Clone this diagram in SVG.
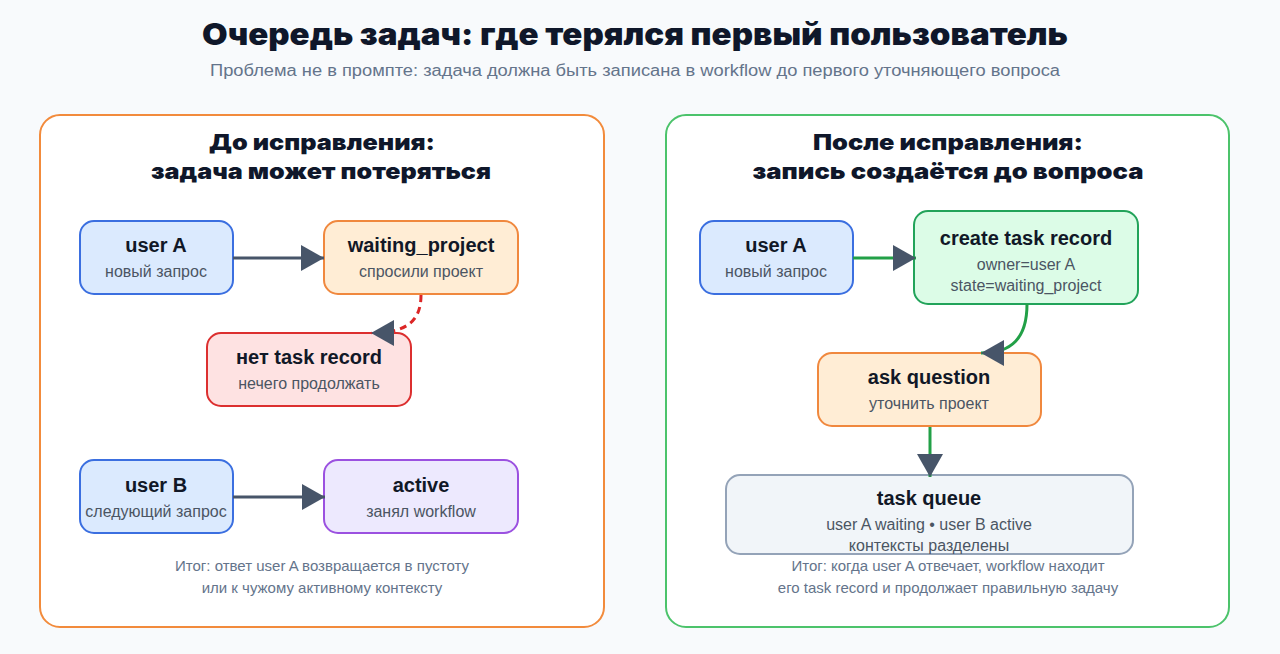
<svg xmlns="http://www.w3.org/2000/svg" width="1280" height="654" viewBox="0 0 1280 654">
<defs>
<style>
.h1{font-family:Inter,"Liberation Sans",sans-serif;font-weight:900;font-size:30px;fill:#0f172a;text-anchor:middle}
.sub{font-family:"Liberation Sans",Arial,sans-serif;font-size:16px;fill:#64748b;text-anchor:middle}
.h2{font-family:Inter,"Liberation Sans",sans-serif;font-weight:900;font-size:22px;fill:#0f172a;text-anchor:middle}
.nt{font-family:"Liberation Sans",Arial,sans-serif;font-weight:700;font-size:20px;fill:#111827;text-anchor:middle}
.ns{font-family:"Liberation Sans",Arial,sans-serif;font-size:16px;fill:#4b5563;text-anchor:middle}
.ft{font-family:"Liberation Sans",Arial,sans-serif;font-size:15px;fill:#64748b;text-anchor:middle}
.node rect{stroke-width:2}
.blue rect{fill:#dbeafe;stroke:#3b6fe0}
.orange rect{fill:#ffedd5;stroke:#f0883e}
.red rect{fill:#fee2e2;stroke:#dc2f2f}
.purple rect{fill:#ede9fe;stroke:#9b51e0}
.green rect{fill:#dcfce7;stroke:#22a35a}
.gray rect{fill:#f1f5f9;stroke:#94a3b8}
.edge{fill:none;stroke-width:3}
</style>
<marker id="ah" markerUnits="userSpaceOnUse" markerWidth="24" markerHeight="26" refX="23" refY="13" orient="auto">
<path d="M0,0 L23,13 L0,26 z" fill="#475569"/>
</marker>
</defs>
<rect x="0" y="0" width="1280" height="654" fill="#f8fafc"/>
<text class="h1" x="635" y="45" textLength="866" lengthAdjust="spacingAndGlyphs">Очередь задач: где терялся первый пользователь</text>
<text class="sub" x="635" y="76" textLength="850" lengthAdjust="spacingAndGlyphs">Проблема не в промпте: задача должна быть записана в workflow до первого уточняющего вопроса</text>

<g id="panel-before">
<rect x="40" y="115" width="564" height="512" rx="20" fill="#ffffff" stroke="#f28b3c" stroke-width="2"/>
<text class="h2" x="322" y="150" textLength="226" lengthAdjust="spacingAndGlyphs">До исправления:</text>
<text class="h2" x="321" y="179" textLength="340" lengthAdjust="spacingAndGlyphs">задача может потеряться</text>
<text class="ft" x="322" y="571">Итог: ответ user A возвращается в пустоту</text>
<text class="ft" x="322" y="593">или к чужому активному контексту</text>
</g>
<g id="panel-after">
<rect x="666" y="115" width="563" height="512" rx="20" fill="#ffffff" stroke="#4cc36b" stroke-width="2"/>
<text class="h2" x="948" y="150" textLength="270" lengthAdjust="spacingAndGlyphs">После исправления:</text>
<text class="h2" x="948" y="179" textLength="391" lengthAdjust="spacingAndGlyphs">запись создаётся до вопроса</text>
<text class="ft" x="948" y="571">Итог: когда user A отвечает, workflow находит</text>
<text class="ft" x="948" y="593">его task record и продолжает правильную задачу</text>
</g>

<g id="n-userA-before" class="node blue">
<rect x="80" y="221" width="153" height="73" rx="14"/>
<text class="nt" x="156" y="252">user A</text>
<text class="ns" x="156" y="277">новый запрос</text>
</g>
<g id="n-waiting" class="node orange">
<rect x="324" y="221" width="194" height="73" rx="14"/>
<text class="nt" x="421" y="252">waiting_project</text>
<text class="ns" x="421" y="277">спросили проект</text>
</g>
<g id="n-notask" class="node red">
<rect x="207" y="333" width="204" height="73" rx="14"/>
<text class="nt" x="309" y="364">нет task record</text>
<text class="ns" x="309" y="389">нечего продолжать</text>
</g>
<g id="n-userB" class="node blue">
<rect x="80" y="460" width="153" height="73" rx="14"/>
<text class="nt" x="156" y="492">user B</text>
<text class="ns" x="156" y="517">следующий запрос</text>
</g>
<g id="n-active" class="node purple">
<rect x="324" y="460" width="194" height="73" rx="14"/>
<text class="nt" x="421" y="492">active</text>
<text class="ns" x="421" y="517">занял workflow</text>
</g>

<g id="n-userA-after" class="node blue">
<rect x="700" y="221" width="153" height="73" rx="14"/>
<text class="nt" x="776" y="252">user A</text>
<text class="ns" x="776" y="277">новый запрос</text>
</g>
<g id="n-create" class="node green">
<rect x="914" y="211" width="224" height="93" rx="14"/>
<text class="nt" x="1026" y="245">create task record</text>
<text class="ns" x="1026" y="270">owner=user A</text>
<text class="ns" x="1026" y="291">state=waiting_project</text>
</g>
<g id="n-ask" class="node orange">
<rect x="818" y="353" width="223" height="73" rx="14"/>
<text class="nt" x="929" y="384">ask question</text>
<text class="ns" x="929" y="409">уточнить проект</text>
</g>
<g id="n-queue" class="node gray">
<rect x="726" y="475" width="407" height="79" rx="14"/>
<text class="nt" x="929" y="505">task queue</text>
<text class="ns" x="929" y="530">user A waiting • user B active</text>
<text class="ns" x="929" y="551">контексты разделены</text>
</g>

<g id="connectors">
<path class="edge" d="M233,258 L324,258" stroke="#475569" marker-end="url(#ah)"/>
<path class="edge" d="M421,295 C421,320 408,333 371,333" stroke="#dc2626" stroke-dasharray="7 5" marker-end="url(#ah)"/>
<path class="edge" d="M233,497 L325,497" stroke="#475569" marker-end="url(#ah)"/>
<path class="edge" d="M853,258 L916,258" stroke="#22a047" marker-end="url(#ah)"/>
<path class="edge" d="M1027,304 C1027,338 1012,353 981,353" stroke="#22a047" marker-end="url(#ah)"/>
<path class="edge" d="M930,427 L930,477" stroke="#22a047" marker-end="url(#ah)"/>
</g>
</svg>
